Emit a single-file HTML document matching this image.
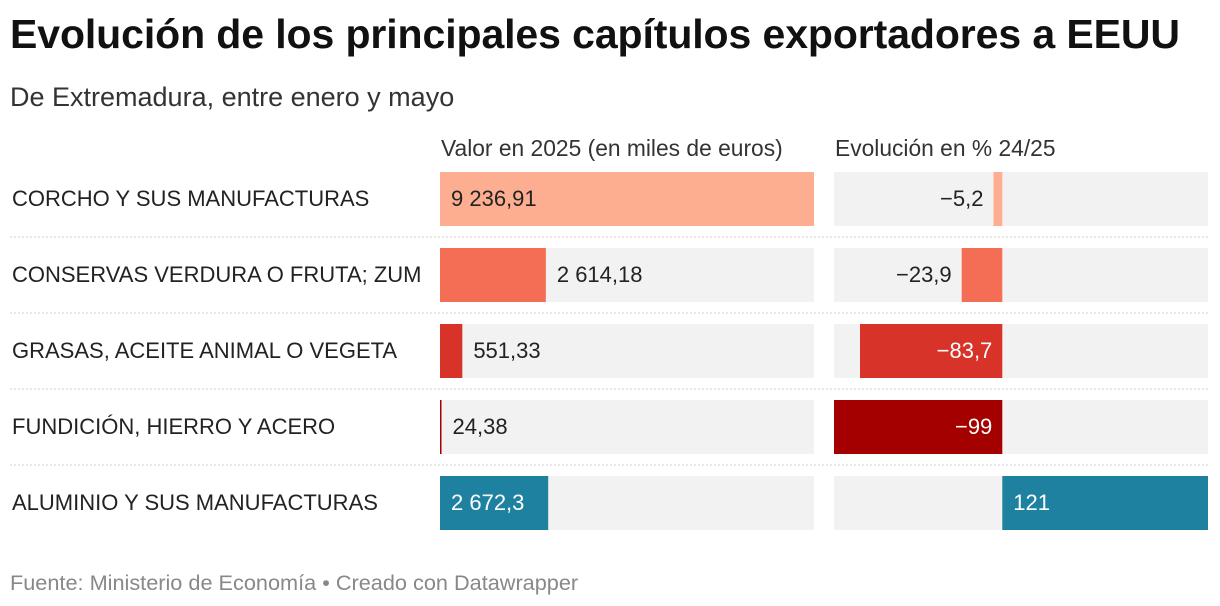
<!DOCTYPE html>
<html><head><meta charset="utf-8">
<style>
body{margin:0;width:1220px;height:606px;background:#fff;font-family:"Liberation Sans",sans-serif;overflow:hidden;position:relative}
.t{position:absolute;white-space:nowrap}
</style></head><body>
<div class="t" style="left:10px;top:11px;font-size:41px;font-weight:bold;color:#111;letter-spacing:-0.1px">Evolución de los principales capítulos exportadores a EEUU</div>
<div class="t" style="left:10px;top:82px;font-size:27px;color:#333">De Extremadura, entre enero y mayo</div>
<div class="t" style="left:441px;top:135px;font-size:22.8px;color:#333">Valor en 2025 (en miles de euros)</div>
<div class="t" style="left:835px;top:135px;font-size:22.8px;color:#333">Evolución en % 24/25</div>
<svg id="c" width="1220" height="606" style="position:absolute;left:0;top:0"></svg>
<div class="t" style="left:10px;top:570px;font-size:21.7px;color:#888">Fuente: Ministerio de Economía • Creado con Datawrapper</div>
<script>
const categories=["CORCHO Y SUS MANUFACTURAS","CONSERVAS VERDURA O FRUTA; ZUM","GRASAS, ACEITE ANIMAL O VEGETA","FUNDICIÓN, HIERRO Y ACERO","ALUMINIO Y SUS MANUFACTURAS"];
const values=[9236.91,2614.18,551.33,24.38,2672.3];
const valueLabels=["9 236,91","2 614,18","551,33","24,38","2 672,3"];
const changes=[-5.2,-23.9,-83.7,-99,121];
const changeLabels=["−5,2","−23,9","−83,7","−99","121"];
const colors=["#fdae91","#f46d55","#d73328","#a50000","#1f81a0"];
const svg=document.getElementById('c');const NS="http://www.w3.org/2000/svg";
function mk(tag,a){const e=document.createElementNS(NS,tag);for(const k in a)e.setAttribute(k,a[k]);svg.appendChild(e);return e;}
const x1=v=>440+v/Math.max(...values)*374;
const cMin=Math.min(0,...changes),cMax=Math.max(0,...changes);
const x2=v=>834+(v-cMin)/(cMax-cMin)*374;
const rowY=i=>172+i*76;
categories.forEach((c,i)=>{
 const y=rowY(i);
 let t=mk('text',{x:12,y:y+34,'font-size':22,fill:'#222'});t.textContent=c;
 
 
 let bg=mk('rect',{x:440,y:y,width:374,height:54,fill:'#f2f2f2'});
 
 
 const w=Math.max(1.5,x1(values[i])-440);
 let b=mk('rect',{x:440,y:y,width:w,height:54,fill:colors[i]});
 
 
 const inside=w>valueLabels[i].length*11.5+22;
 let vl=mk('text',{x:inside?451:440+w+11,y:y+34,'font-size':22,fill:inside&&i!=0?'#fff':'#222'});
 vl.textContent=valueLabels[i];
 
 
 let bg2=mk('rect',{x:834,y:y,width:374,height:54,fill:'#f2f2f2'});
 
 
 const z=x2(0),xv=x2(changes[i]);
 let b2=mk('rect',{x:Math.min(z,xv),y:y,width:Math.abs(xv-z),height:54,fill:colors[i]});
 
 
 const bw=Math.abs(xv-z);let a;
 if(changes[i]<0){ if(bw>80)a={x:z-10,anchor:'end',fill:'#fff'}; else a={x:xv-10,anchor:'end',fill:'#222'}; }
 else { a={x:z+11,anchor:'start',fill:'#fff'}; }
 let cl=mk('text',{x:a.x,y:y+34,'font-size':22,fill:a.fill,'text-anchor':a.anchor});
 cl.textContent=changeLabels[i];
 
 
 if(i<categories.length-1){
  let ln=mk('line',{x1:10,x2:1208,y1:y+65,y2:y+65,stroke:'#ccc','stroke-dasharray':'2,2'});
  
  
 }
});
</script>
</body></html>
